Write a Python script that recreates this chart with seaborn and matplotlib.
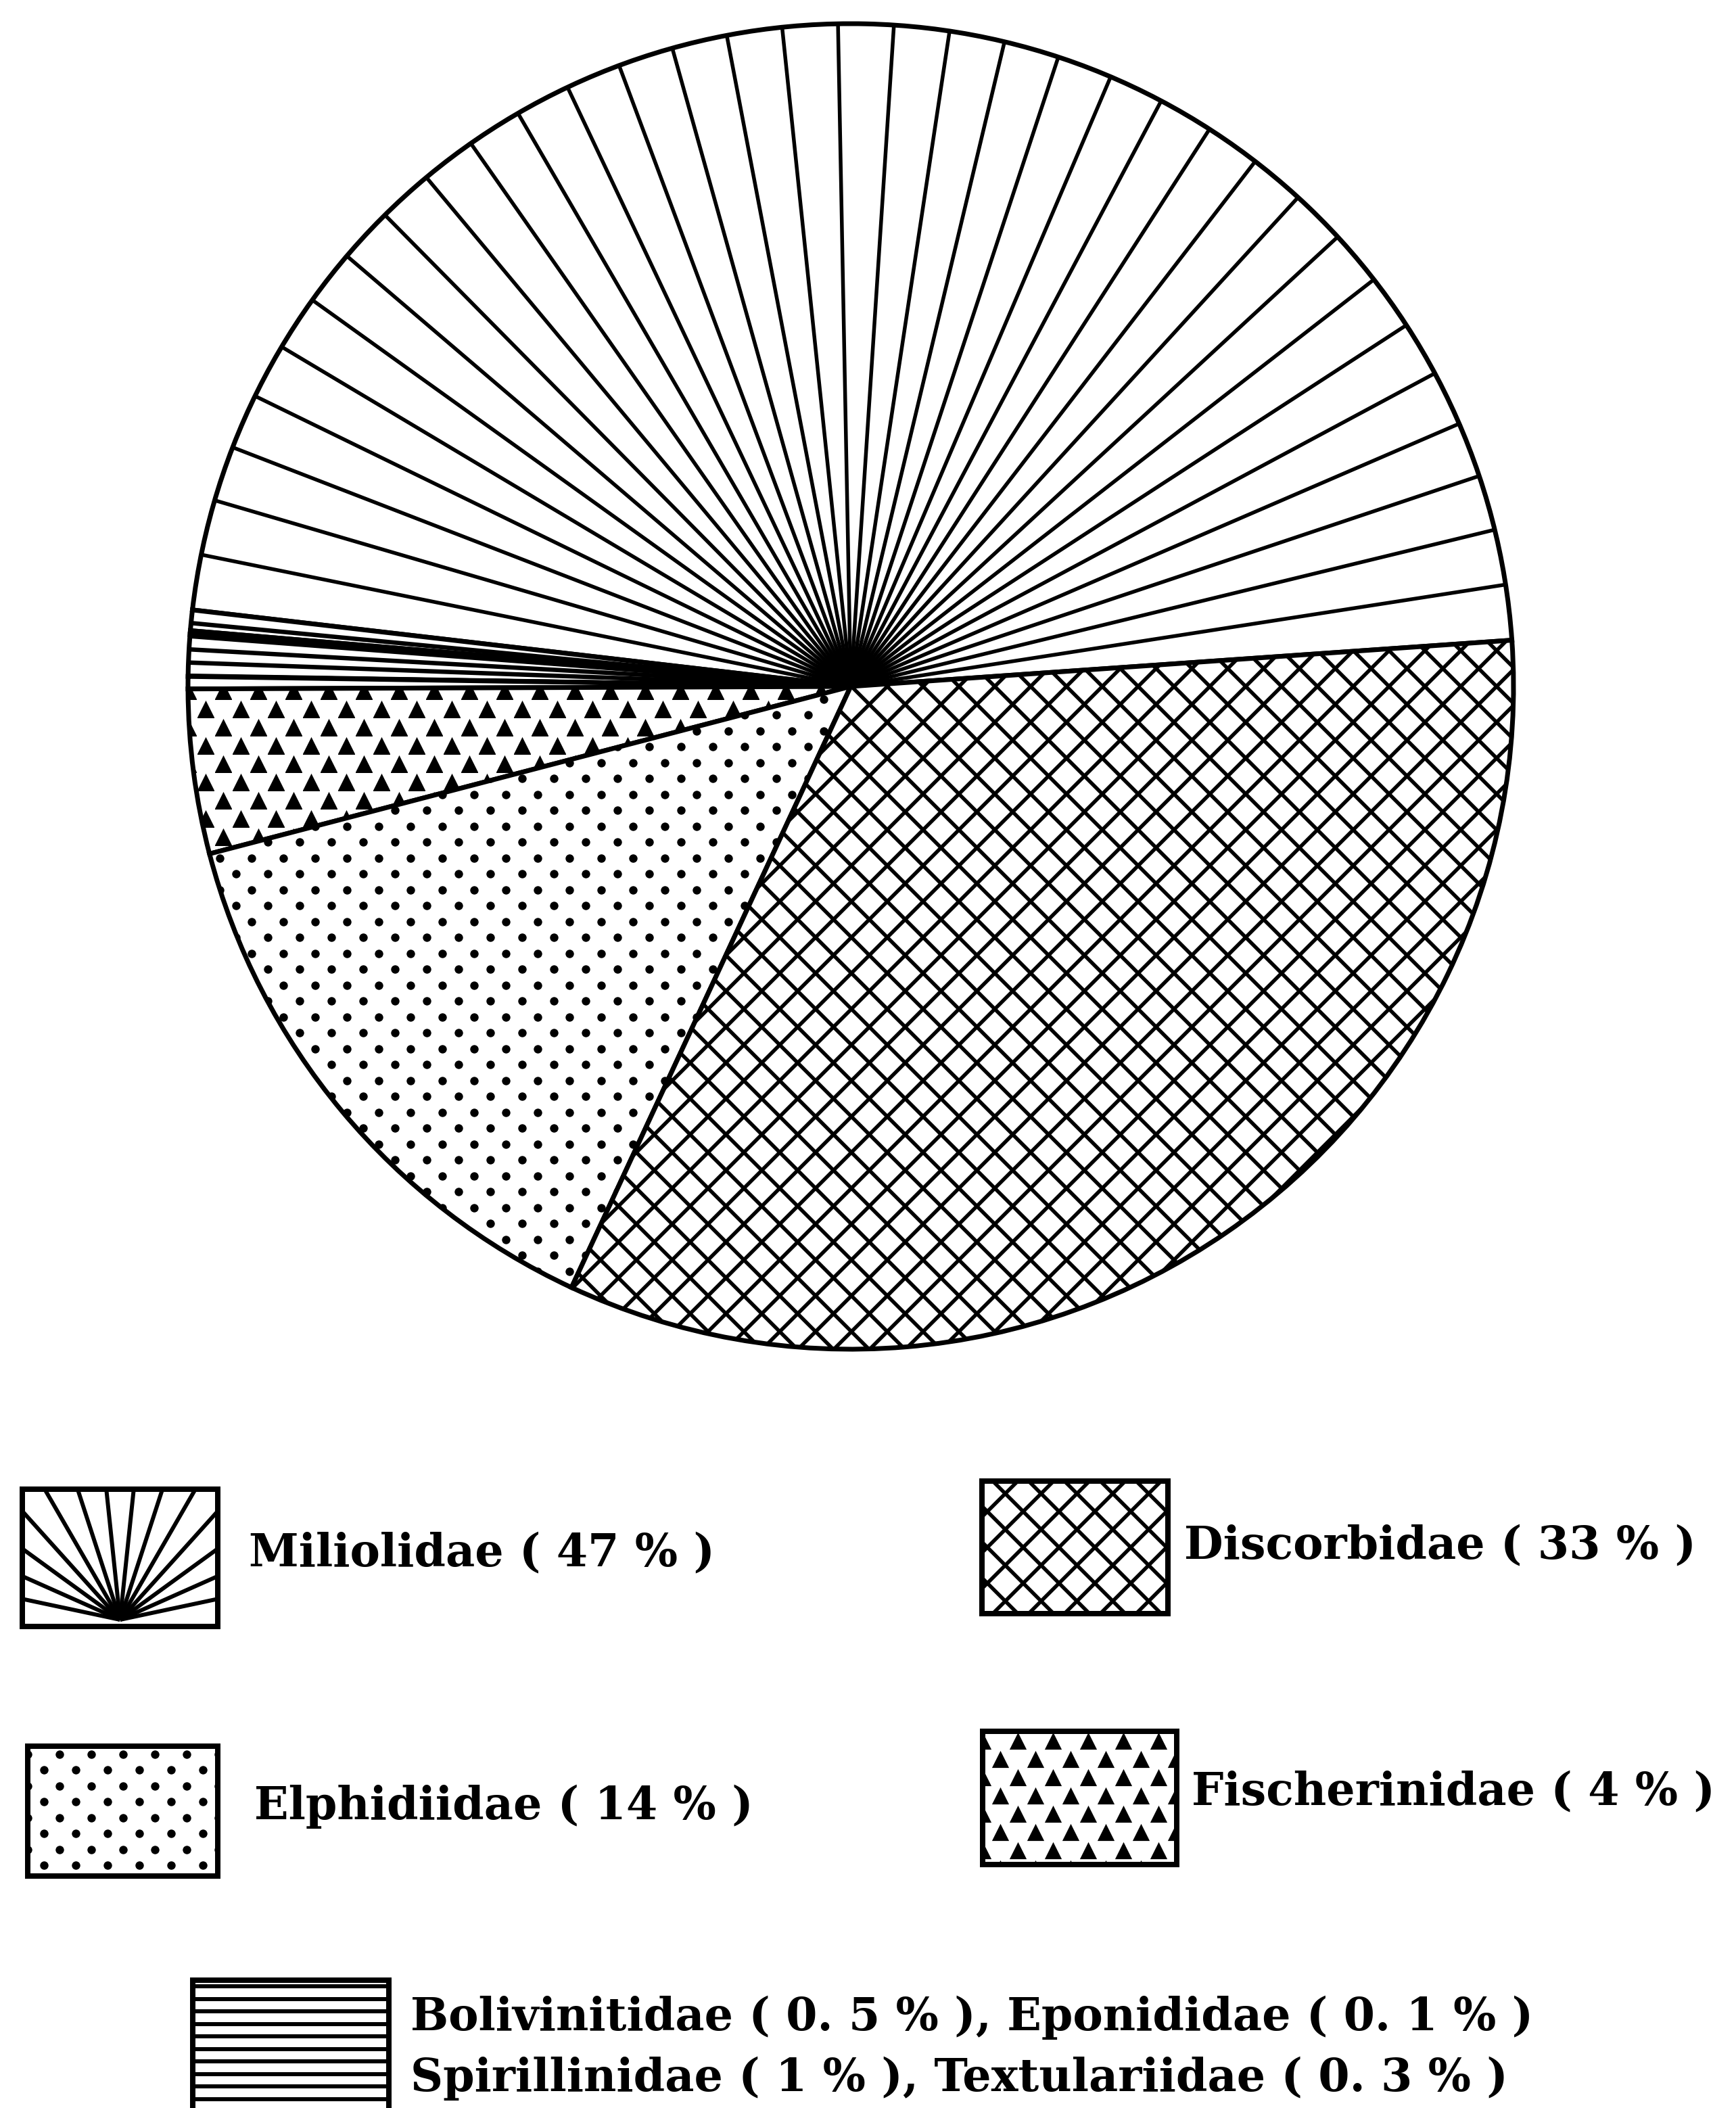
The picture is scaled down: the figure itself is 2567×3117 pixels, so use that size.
import numpy as np
import matplotlib
matplotlib.use("Agg")
import matplotlib.pyplot as plt
import seaborn as sns
from matplotlib.collections import LineCollection
from matplotlib.patches import Rectangle

# Foraminifera families and their share (%)
families = ["Miliolidae", "Bolivinitidae", "Eponididae", "Spirillinidae",
            "Textulariidae", "Fischerinidae", "Elphidiidae", "Discorbidae"]
percent = [47, 0.5, 0.1, 1, 0.3, 4, 14, 33]
fill = ["fan", "lines", "lines", "lines", "lines", "drops", "dots", "net"]

legend_text = ["Miliolidae ( 47 % )", "Discorbidae ( 33 % )",
               "Elphidiidae ( 14 % )", "Fischerinidae ( 4 % )"]
legend_fill = ["fan", "net", "dots", "drops"]
other_text = ["Bolivinitidae ( 0. 5 % ), Eponididae ( 0. 1 % )",
              "Spirillinidae ( 1 % ), Textulariidae ( 0. 3 % )"]

sns.set_theme(style="white")
plt.rcParams["font.family"] = ["DejaVu Serif"]

W, H = 2567, 3117
PT = 100 / 72  # pixels per point


def lw(px):
    return px / PT


fig = plt.figure(figsize=(W / 100, H / 100), dpi=100)
ax = fig.add_axes([0, 0, 1, 1])


def fan(x0, y0, r, t1, t2, n, width, clip=None):
    ang = np.radians(np.linspace(t1, t2, n + 2)[1:-1])
    segs = [[(x0, y0), (x0 + r * np.cos(a), y0 + r * np.sin(a))] for a in ang]
    lc = LineCollection(segs, colors="black", linewidths=lw(width), capstyle="butt", zorder=2)
    ax.add_collection(lc)
    if clip is not None:
        lc.set_clip_path(clip)


def net(x0, x1, y0, y1, step, width, clip):
    h = y1 - y0
    segs = []
    for c in np.arange(-h - step, (x1 - x0) + step, step):
        segs.append([(x0 + c, y0), (x0 + c + h, y1)])
        segs.append([(x0 + c, y1), (x0 + c + h, y0)])
    lc = LineCollection(segs, colors="black", linewidths=lw(width), zorder=2)
    ax.add_collection(lc)
    lc.set_clip_path(clip)


def hlines(x0, x1, y0, y1, step, width, clip):
    segs = [[(x0, y), (x1, y)] for y in np.arange(y1 - step / 2, y0, -step)]
    lc = LineCollection(segs, colors="black", linewidths=lw(width), zorder=2)
    ax.add_collection(lc)
    lc.set_clip_path(clip)


def stipple(x0, x1, y0, y1, dx, dy, marker, size, clip):
    pts = []
    for i, y in enumerate(np.arange(y1 - dy / 2, y0 - dy, -dy)):
        xs = np.arange(x0 + (dx / 2 if i % 2 else 0), x1 + dx, dx)
        pts.append(np.column_stack([xs, np.full_like(xs, y)]))
    pts = np.vstack(pts)
    sns.scatterplot(x=pts[:, 0], y=pts[:, 1], ax=ax, marker=marker, s=size,
                    color="black", linewidth=0, legend=False, zorder=2)
    ax.collections[-1].set_clip_path(clip)


def fill_box(kind, x0, x1, y0, y1, clip, origin=None):
    if kind == "fan":
        ox, oy = origin
        fan(ox, oy, 2 * (x1 - x0), 0, 180, 14, 6, clip)
    elif kind == "net":
        net(x0, x1, y0, y1, 53, 5.5, clip)
    elif kind == "dots":
        stipple(x0, x1, y0, y1, 47, 23.5, "o", 80, clip)
    elif kind == "drops":
        stipple(x0, x1, y0, y1, 52, 27, "^", 330, clip)
    elif kind == "hlines":
        hlines(x0, x1, y0, y1, 18.5, 6, clip)


# ---- pie ----
cx, cy, R = 1258, H - 1015, 980
wedges, _ = ax.pie(percent, startangle=4, counterclock=True, center=(cx, cy), radius=R,
                   frame=True,
                   wedgeprops=dict(facecolor="white", edgecolor="black", linewidth=lw(7)))

for w, kind in zip(wedges, fill):
    if kind == "fan":
        fan(cx, cy, R, w.theta1, w.theta2, 34, 5.5, w)
    elif kind in ("net", "dots", "drops"):
        fill_box(kind, cx - R, cx + R, cy - R, cy + R, w)

# the four minor families share one line fill
minor = [w for w, k in zip(wedges, fill) if k == "lines"]
fan(cx, cy, R, minor[0].theta1, minor[-1].theta2, 5, 6.5)

# ---- legend ----
boxes = [(33, 322, 2202, 2405), (1452, 1727, 2190, 2386),
         (41, 322, 2582, 2774), (1453, 1740, 2560, 2757)]
text_pos = [(368, 2315), (1751, 2304), (376, 2690), (1762, 2668)]
FS = 48

for (x0, x1, t, b), kind, label, (tx, ty) in zip(boxes, legend_fill, legend_text, text_pos):
    rect = Rectangle((x0, H - b), x1 - x0, b - t, facecolor="none",
                     edgecolor="black", linewidth=lw(8), zorder=3)
    ax.add_patch(rect)
    clip = Rectangle((x0, H - b), x1 - x0, b - t, facecolor="none", edgecolor="none")
    ax.add_patch(clip)
    fill_box(kind, x0, x1, H - b, H - t, clip, origin=((x0 + x1) / 2, H - b + 10))
    ax.text(tx, H - ty, label, fontsize=FS, fontweight="bold", ha="left", va="baseline",
            color="black")

x0, x1, t, b = 285, 575, 2928, 3135
rect = Rectangle((x0, H - b), x1 - x0, b - t, facecolor="none",
                 edgecolor="black", linewidth=lw(8), zorder=3)
ax.add_patch(rect)
clip = Rectangle((x0, H - b), x1 - x0, b - t, facecolor="none", edgecolor="none")
ax.add_patch(clip)
fill_box("hlines", x0, x1, H - b, H - t, clip)
for line, ty in zip(other_text, [3002, 3092]):
    ax.text(607, H - ty, line, fontsize=FS, fontweight="bold", ha="left", va="baseline",
            color="black")

ax.set_xlim(0, W)
ax.set_ylim(0, H)
ax.set_axis_off()
fig.savefig("out.png", dpi=100, facecolor="white")
